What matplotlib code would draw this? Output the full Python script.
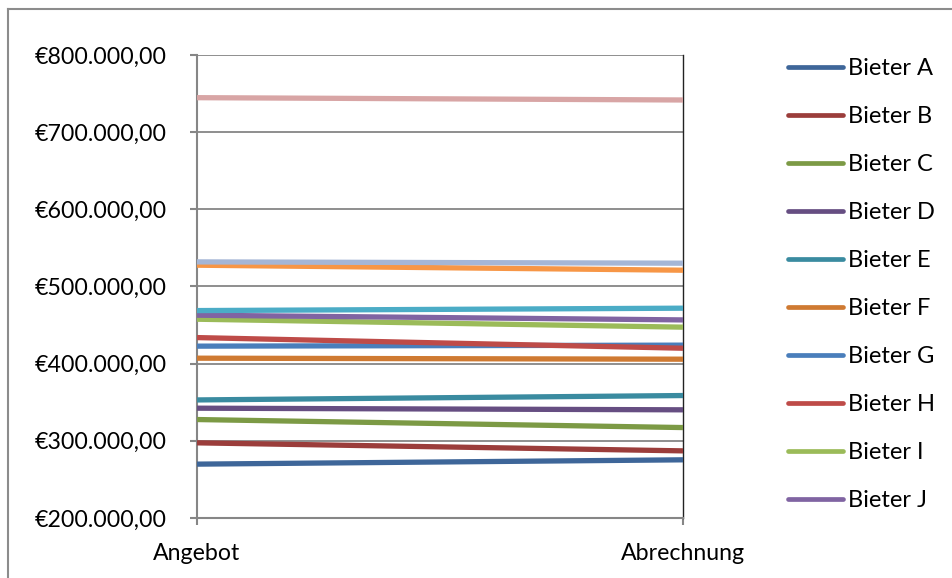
import matplotlib.pyplot as plt
from matplotlib.ticker import FuncFormatter, MultipleLocator

plt.rcParams['font.family'] = ['Lato', 'DejaVu Sans']

# data (in thousand euro)
categories = ['Angebot', 'Abrechnung']
names = ['Bieter A', 'Bieter B', 'Bieter C', 'Bieter D', 'Bieter E',
         'Bieter F', 'Bieter G', 'Bieter H', 'Bieter I', 'Bieter J',
         'Bieter K', 'Bieter L', 'Bieter M', 'Bieter N']
angebot = [269.8, 297.4, 327.6, 342.3, 353.0, 407.1, 422.7, 433.8,
           457.6, 462.8, 468.8, 527.6, 531.9, 744.7]
abrechnung = [275.4, 287.0, 317.2, 340.2, 358.7, 405.8, 424.0, 420.0,
              447.3, 456.7, 471.9, 521.1, 530.2, 741.7]
colors = ['#3E6699', '#9B3D3B', '#7C9A45', '#664E82', '#3A8BA0',
          '#CF7A32', '#4A7EBB', '#BE4B48', '#9BBB59', '#8064A2',
          '#4BACC6', '#F79646', '#A5B6D6', '#D8A5A5']
n_legend = 10  # only A..J are visible in the legend

fig = plt.figure(figsize=(9.53, 5.78), dpi=100)
ax = fig.add_axes([197 / 953, 1 - 518 / 578, 486 / 953, 463 / 578])

x = list(range(len(categories)))
lines = []
for i in range(len(names)):
    ln, = ax.plot(x, [angebot[i] * 1000, abrechnung[i] * 1000],
                  color=colors[i], lw=3.8, solid_capstyle='butt', zorder=3 + i)
    lines.append(ln)

ax.set_xlim(0, 1)
ax.set_ylim(200000, 800000)
ax.set_xticks(x)
ax.set_xticklabels(categories)
ax.yaxis.set_major_locator(MultipleLocator(100000))


def euro(v, pos):
    s = f'{v:,.2f}'.replace(',', 'X').replace('.', ',').replace('X', '.')
    return '€' + s


ax.yaxis.set_major_formatter(FuncFormatter(euro))
ax.grid(axis='y', color='#868686', lw=1.3)
ax.set_axisbelow(True)
for side in ['left', 'bottom']:
    ax.spines[side].set_color('#868686')
    ax.spines[side].set_linewidth(1.5)
ax.spines['top'].set_visible(False)
ax.spines['right'].set_color('#222222')
ax.spines['right'].set_linewidth(1.0)
ax.tick_params(axis='both', colors='#868686', length=5, width=1.5,
               labelcolor='black', labelsize=16.7)
ax.tick_params(axis='y', pad=17)
ax.tick_params(axis='x', pad=13)

handles = []
for ln in lines[:n_legend]:
    h, = ax.plot([], [], color=ln.get_color(), lw=3.4, solid_capstyle='round')
    handles.append(h)
fig.legend(handles, names[:n_legend], loc='upper left',
           bbox_to_anchor=(788 / 953, 1 - 58 / 578), frameon=False,
           fontsize=17, handlelength=2.33, handletextpad=0.22,
           labelspacing=1.145, borderaxespad=0, borderpad=0)

# outer chart border (cropped on right and bottom)
fig.add_artist(plt.Line2D([8 / 953, 8 / 953], [0, 1 - 9 / 578],
                          transform=fig.transFigure, color='#8c8c8c', lw=1.5))
fig.add_artist(plt.Line2D([8 / 953, 1], [1 - 9 / 578, 1 - 9 / 578],
                          transform=fig.transFigure, color='#8c8c8c', lw=1.5))

fig.savefig('out.png', dpi=100)
